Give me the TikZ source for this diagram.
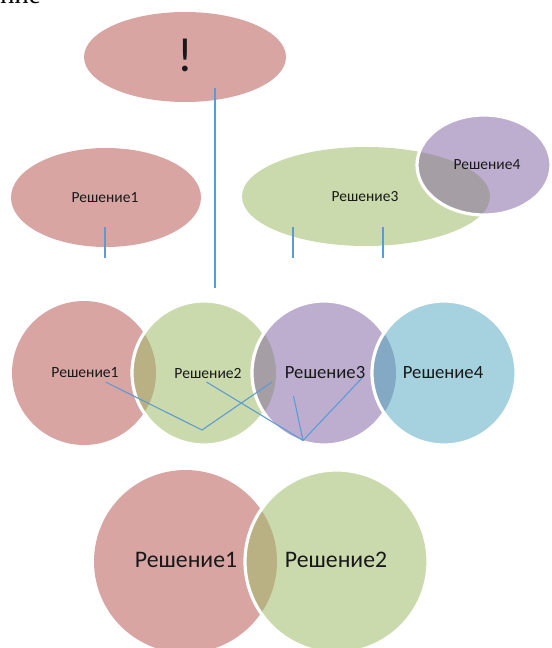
\documentclass[tikz,border=0pt]{standalone}
\usepackage{fontspec}
\setmainfont{Carlito}
\newfontfamily\seriffont{Liberation Serif}
\definecolor{cpink}{HTML}{D9A5A3}
\definecolor{cgreen}{HTML}{CBDAAC}
\definecolor{cpurple}{HTML}{BDAED0}
\definecolor{cblue}{HTML}{A5D2DE}
\definecolor{lpg}{HTML}{B9B183}
\definecolor{lgp}{HTML}{A59FA5}
\definecolor{lpb}{HTML}{83A9C4}
\definecolor{cline}{HTML}{5B9BD5}
\tikzset{
  conn/.style={draw=cline, line width=0.8pt},
  rim/.style={draw=white, line width=2.4pt},
  lbl/.style={inner sep=0pt, text=black!90},
}
\begin{document}
\begin{tikzpicture}[x=0.75pt,y=-0.75pt]
\useasboundingbox (0,0) rectangle (551,648);
% cut-off text at top
\node[anchor=base west, inner sep=0pt, font=\seriffont\fontsize{20}{24}\selectfont] (cut) at (0,4) {ние};

% top ellipse
\fill[cpink] (185,57) ellipse [x radius=101, y radius=45];
\node[lbl, font=\fontsize{36}{42}\selectfont] (excl) at (185,55) {!};
\coordinate (v1a) at (215,88);
\coordinate (v1b) at (215,288);
\draw[conn] (v1a) -- (v1b);

% second level ellipses
\fill[cpink] (106,197.5) ellipse [x radius=95, y radius=49.5];
\node[lbl, font=\fontsize{11.6}{14}\selectfont] (e1) at (105,198) {Решение1};
\fill[cgreen] (366,196.5) ellipse [x radius=124, y radius=49.5];
\fill[cpurple] (484,165) ellipse [x radius=67, y radius=50];
\begin{scope}
  \clip (366,196.5) ellipse [x radius=124, y radius=49.5];
  \fill[lgp] (484,165) ellipse [x radius=67, y radius=50];
\end{scope}
\draw[rim] (484,165) ellipse [x radius=67, y radius=50];
\node[lbl, font=\fontsize{11.6}{14}\selectfont] (e3) at (365,197) {Решение3};
\node[lbl, font=\fontsize{11.6}{14}\selectfont] (e4) at (487,165) {Решение4};
\coordinate (v2a) at (105,227); \coordinate (v2b) at (105,258);
\coordinate (v3a) at (293,227); \coordinate (v3b) at (293,258);
\coordinate (v4a) at (383,227); \coordinate (v4b) at (383,258);
\draw[conn] (v2a) -- (v2b);
\draw[conn] (v3a) -- (v3b);
\draw[conn] (v4a) -- (v4b);

% row of four circles
\def\R{72}
\fill[cpink] (84,373) circle (\R);
\fill[cgreen] (204,373) circle (\R);
\begin{scope}\clip (84,373) circle (\R); \fill[lpg] (204,373) circle (\R);\end{scope}
\draw[rim] (204,373) circle (\R);
\fill[cpurple] (324,373) circle (\R);
\begin{scope}\clip (204,373) circle (\R); \fill[lgp] (324,373) circle (\R);\end{scope}
\draw[rim] (324,373) circle (\R);
\fill[cblue] (444,373) circle (\R);
\begin{scope}\clip (324,373) circle (\R); \fill[lpb] (444,373) circle (\R);\end{scope}
\draw[rim] (444,373) circle (\R);
\node[lbl, font=\fontsize{11.7}{14}\selectfont] (r1) at (85,373) {Решение1};
\node[lbl, font=\fontsize{11.7}{14}\selectfont] (r2) at (208,373) {Решение2};
\node[lbl, font=\fontsize{14}{17}\selectfont] (r3) at (325,373) {Решение3};
\node[lbl, font=\fontsize{14}{17}\selectfont] (r4) at (443,373) {Решение4};
\coordinate (p1) at (105.5,382);
\coordinate (p2) at (202,430);
\coordinate (p3) at (272,382);
\coordinate (q1) at (206.5,382);
\coordinate (q2) at (303,440.5);
\coordinate (q3) at (293.5,396);
\coordinate (q4) at (362,378);
\draw[conn] (p1) -- (p2) -- (p3);
\draw[conn] (q1) -- (q2) -- (q4);
\draw[conn] (q3) -- (q2);

% bottom pair
\def\Rb{91.5}
\fill[cpink] (185.5,561.5) circle (\Rb);
\fill[cgreen] (336.5,561.5) circle (\Rb);
\begin{scope}\clip (185.5,561.5) circle (\Rb); \fill[lpg] (336.5,561.5) circle (\Rb);\end{scope}
\draw[rim] (336.5,561.5) circle (\Rb);
\node[lbl, font=\fontsize{17.8}{21}\selectfont] (b1) at (186,560) {Решение1};
\node[lbl, font=\fontsize{17.8}{21}\selectfont] (b2) at (336,560) {Решение2};
\end{tikzpicture}
\end{document}
